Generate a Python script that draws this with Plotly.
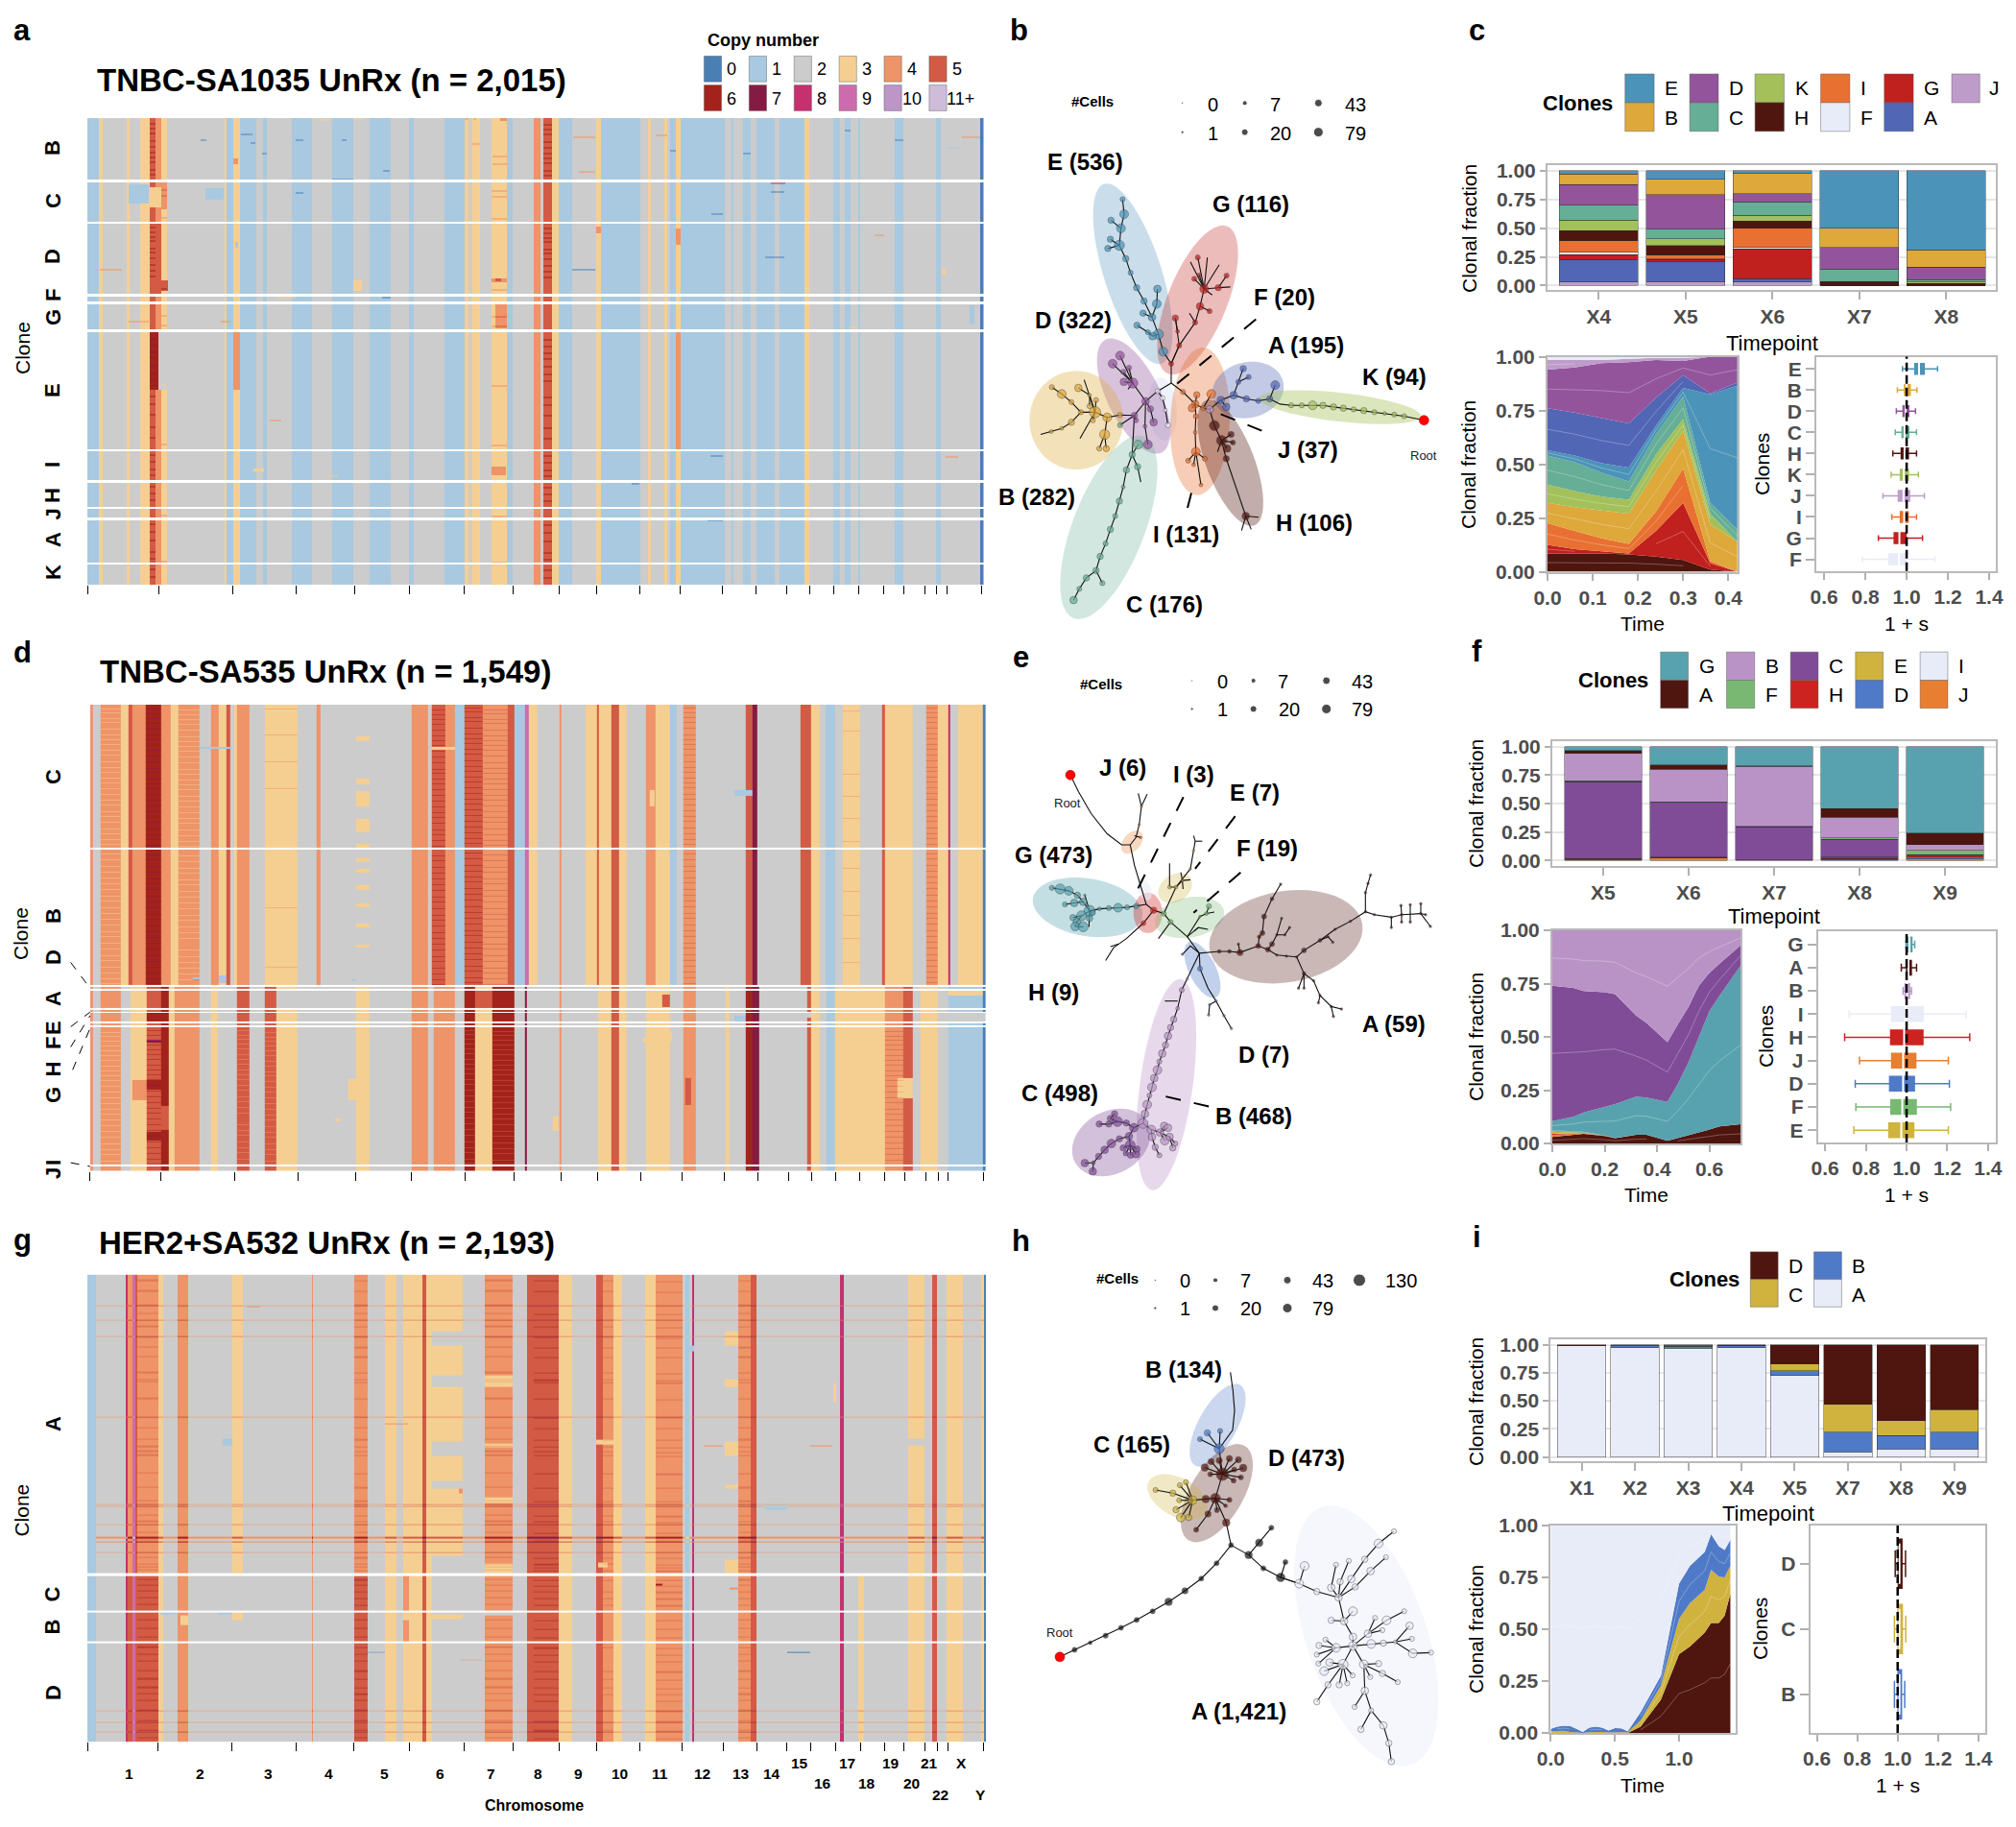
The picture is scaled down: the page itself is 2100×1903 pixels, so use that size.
import numpy as np
import plotly.graph_objects as go

W, H = 2100, 1903
FONT = "Liberation Sans"
GREY = "#4d4d4d"

CN_COLORS = ["#4a7fb5", "#a8c9e0", "#cccccc", "#f5cf92", "#ee9468", "#d35a44",
             "#a3221b", "#841b42", "#c6306f", "#ce6bae", "#bb96c6", "#cfbcdb"]
CN_LABELS = ["0", "1", "2", "3", "4", "5", "6", "7", "8", "9", "10", "11+"]

# ---------- heatmap a : genome position / row position ----------
A_SEG_X = [91,103,107,132,135,146,156,162,168,174,234,236,243,249.5,267,274,278,304,325,346,368,385,407,426,431,463,466,484,488,492,500,512,528,534,556,563,566,575,582,596,621,626,667,675,678,692,695,698,704,709,755,762,764,774,782,788,807,812,838,843,868,875,880,886,894,896,932,941,975,980,1021,1024.5]
A_SEG_CN = [1,3,2,3,2,3,5,4,3,2,3,1,3,1,2,1,2,1,2,1,2,1,2,1,2,1,1,3,2,3,2,3,1,2,4,2,5,3,1,2,3,1,2,3,2,3,2,1,3,1,2,1,2,1,2,1,2,1,3,2,1,2,1,2,1,2,1,2,1,2,0]
A_ROWS = [(123,187.3),(190,230.6),(233,306),(309,314),(316.5,343),(345.5,468),(470,500),(502.5,528),(530,539),(541.5,586),(588,609)]
A_TICKS = [91.8,165.4,242.5,308.8,369,426.6,483.6,534.5,582.7,621.6,666.5,708.7,752.9,787.7,819.8,843.9,868.7,894.8,920.9,941,963.1,975.8,986.5,1022.8]
A_CLONE_NAMES = ["B","C","D","F","G","E","I","H","J","A","K"]
A_CLONE_Y = [154,209,267,308,331,407,484,516,535.5,562,596]
A_PATCHES = [
 (156,165,345.5,406,6),(165,174,345.5,406,2),(243,249.5,345.5,406,4),(704,709,345.5,468,4),
 (516,528,316.5,342,4),(512,527,486,495,4),(156,175,292,303,5),(368,377,292,303,3),
 (134,155,192,212,1),(214,233,196,208,1),(156,168,233,306,5),(168,174,190,218,4),(156,168,195,216,3),
 (251,263,139,140.5,0),(308,316,145,146.5,0),(356,361,145,146.5,0),(346,368,186,187.3,0),(261,266,148,149.5,0),
 (273,278,159,160.5,0),(399,406,177,178.5,0),(209,215,145,146.5,0),(331,344,124,126,3),(368,379,123,124.5,3),
 (521,528,123,126,4),(484,488,123,125,4),(493,496,123,125,4),(243,248,165,171,4),(513,528,162,163.5,4),
 (513,528,170,171.5,4),(492,500,149,150.5,4),(597,620,142,143.5,4),(603,620,178,179.5,4),(698,704,156,157.5,0),
 (683,695,140,141.5,4),(774,782,159,160.5,0),(880,886,135,136.5,0),(932,941,145,146.5,0),(1002,1021,142,143.5,4),
 (987,1000,153,154.5,1),(803,818,190,192,8),(803,817,199,200.5,0),(741,753,222,223.5,0),(737,753,541.5,543,0),
 (658,666,503,504.5,0),(281,293,437,438.5,4),(740,753,474,475.5,0),(985,998,475,476.5,4),(797,817,267,268.5,0),
 (911,921,244,245.5,4),(596,620,280,281.5,0),(288,308,309,311,3),(398,407,309,310.5,0),(884,894,340,342,3),
 (1010,1015,318,337,1),(981,985,280,286,3),(134,157,334,335.5,4),(104,127,280,281.5,4),(621,626,236,243,4),
 (704,709,238,255,4),(512,528,290,294,4),(516,522,290,293,5),(245,248,252,258,1),
 (230,240,334,335.5,4),(308,316,200,201.5,0),(340,352,495,497,3),(368,380,502.5,504,3),(264,275,488,491,3),
]
A_DARK_ROWS = [128,133,138,146,152,158,163,168,176,181,236,241,246,250,258,262,268,275,281,287,352,359,366,372,380,388,395,412,420,431,444,455,473,480,488,494,506,513,520,545,553,562,574,581,592,600]
A_LIGHT_ROWS = [197,203,226,300,328,338,400,462,536,584]

# ---------- heatmap d ----------
D_UP_X = [140,145,156,188,200,205,227,250,265,278,310,328,340,352,358,364,368,388,412,463,492,498,640,665,671,692,708,723,751,790,800,816,822,836,870,873,910,928,932,950,962,975,1005,1020,1042,1052,1062,1082,1160,1170,1178,1245,1262,1275,1284,1298,1310,1338,1372,1376,1420,1440,1458,1475,1478,1490,1528,1533]
D_UP_CN = [4,2,4,3,5,4,6,4,3,4,2,4,3,5,2,3,4,2,3,2,4,2,4,2,5,4,1,5,4,5,1,9,3,2,4,2,3,5,3,5,3,2,4,3,1,2,4,2,5,7,2,5,3,2,1,2,3,2,5,3,2,4,3,8,2,3,0]
D_LOW_X = [140,145,156,188,203,228,250,262,272,310,328,338,368,388,412,430,463,553,575,640,665,675,708,723,738,765,800,816,820,870,873,930,950,962,975,1005,1042,1062,1082,1128,1135,1160,1170,1180,1255,1262,1275,1285,1298,1376,1405,1420,1432,1458,1475,1528,1533]
D_LOW_CN = [4,2,4,2,3,5,6,3,4,2,3,2,5,2,5,3,2,3,2,4,2,4,2,6,3,6,2,7,2,4,2,3,5,3,2,3,2,4,2,3,2,6,7,2,5,3,2,1,3,4,5,2,3,2,1,0]
D_ROWS_UP = [(193,582),(588,955)]
D_ROWS_LOW = [(960,966),(972,1020),(1025,1030),(1033,1056),(1060,1066),(1072,1445),(1450,1451.5),(1453,1462)]
D_TICKS = [140,250,365,463,553,640,723,800,872,930,997,1060,1126,1178,1227,1262,1299,1337,1376,1407,1440,1459,1475,1530]
D_CLONE_NAMES = ["C","B","D","A","E","F","H","G","I","J"]
D_CLONE_Y = [809,954,997,1040,1071,1087,1113.5,1141,1211,1222]
D_PATCHES = [
 (553,575,193,260,2),(553,575,278,291,3),(553,575,395,410,3),(553,575,428,470,3),(553,575,505,540,3),(553,575,572,582,3),
 (553,575,610,622,3),(553,575,640,650,3),(553,575,683,698,3),(553,575,735,745,3),(553,575,790,800,3),(553,575,845,855,3),
 (671,708,309,316,3),(1142,1170,425,442,1),(1010,1018,425,470,3),(310,360,308,314,1),(870,910,200,202,0),
 (1284,1298,193,955,1),(972,1020,958,960,2),(412,430,972,1020,5),(430,463,972,1020,2),(1030,1042,982,1015,5),
 (1475,1500,972,1020,1),(1500,1528,985,1020,1),(1475,1528,972,985,3),(738,765,972,1020,5),(765,800,972,1020,6),
 (1065,1075,1210,1282,5),(860,868,1315,1352,3),(542,553,1212,1270,3),(228,250,1105,1112,7),(228,262,1215,1240,6),
 (228,262,1355,1380,6),(205,228,1215,1270,4),(228,262,1285,1350,5),(205,228,1345,1440,3),(1395,1420,1210,1265,3),
 (1142,1160,1040,1056,1),(300,310,936,944,1),(340,352,930,950,1),(520,530,1318,1326,3),(1245,1262,1033,1045,2),
 (228,262,1033,1056,6),(140,470,1052,1054,5),(1255,1330,1044,1046,0),(1475,1533,1033,1056,2),(708,723,935,955,1),
 (1040,1045,1085,1110,3),(548,553,940,945,1),(1000,1020,1100,1112,3),(1380,1400,1040,1056,4),
]
D_ROWS_FINE = [200,212,226,238,255,271,284,298,312,327,344,361,373,389,402,417,433,448,463,479,494,508,526,541,556,570,596,611,629,644,661,675,692,709,724,741,758,772,789,806,821,838,853,871,886,903,918,934,948]
D_ROWS_LOWFINE = [1078,1090,1102,1115,1128,1142,1156,1170,1184,1197,1211,1226,1241,1257,1272,1288,1302,1317,1333,1349,1364,1381,1397,1411,1428,1440]

# ---------- heatmap g ----------
G_A_X = [137,150,197,200,207,212,215,247,255,277,293,362,378,486,488,551,572,600,617,628,657,663,672,720,755,798,820,830,870,890,928,938,955,968,1003,1020,1062,1066,1072,1076,1079,1148,1168,1176,1306,1312,1412,1438,1450,1457,1472,1497,1526,1530,1533]
G_A_CN = [1,2,8,4,9,5,4,3,2,4,2,3,2,4,2,4,2,3,2,3,5,3,3,2,4,2,5,5,3,2,5,4,3,2,3,4,2,1,2,8,2,4,5,2,8,2,3,2,5,2,3,2,3,0]
G_D_X = [137,150,197,200,207,212,215,247,255,277,293,486,488,551,572,600,617,628,657,663,672,755,798,820,830,870,890,928,938,955,968,1003,1020,1062,1066,1072,1076,1079,1148,1168,1176,1306,1312,1335,1344,1412,1438,1450,1457,1472,1497,1526,1530,1533]
G_D_CN = [1,2,8,5,9,5,5,3,2,4,2,4,2,5,2,3,2,3,5,3,2,4,2,5,5,3,2,5,4,3,2,3,4,2,1,2,8,2,4,5,2,8,2,3,2,3,2,5,2,3,2,3,0]
G_ROWS_A = [(165,923)]
G_ROWS_D = [(930,1018),(1024,1096),(1102,1352)]
G_TICKS = [137,247,362,461,551,637,722,798,870,928,995,1061,1125,1178,1224,1261,1299,1338,1376,1406,1439,1458,1474,1530]
G_CLONE_NAMES = ["A","C","B","D"]
G_CLONE_Y = [1483,1660.6,1694.6,1763]
G_CHROM_NAMES = ["1","2","3","4","5","6","7","8","9","10","11","12","13","14","15","17","19","21","X","16","18","20","22","Y"]
G_CHROM_X = [201,312,418,512,598,684,763,837,900,963,1027,1092,1152,1201,1243,1317,1386,1445,1495,1280,1348,1418,1463,1525]
G_CHROM_Y = [1432]*14 + [1405]*5 + [1457]*3 + [1487]*2
G_PATCHES = [
 (672,720,310,345,2),(672,720,420,450,2),(672,720,590,625,2),(672,720,690,710,2),(672,720,880,923,2),
 (714,720,708,722,4),(755,798,900,923,3),(755,798,420,450,3),(755,798,595,605,3),(755,798,730,745,3),
 (617,628,165,923,2),(600,617,165,923,3),(1412,1438,582,598,2),(1128,1148,590,625,3),(1128,1148,310,345,3),(1128,1148,430,450,3),
 (1128,1148,890,923,3),(1128,1148,700,710,3),(928,960,585,597,3),(930,945,897,908,3),(348,362,582,598,1),(1190,1225,750,762,1),
 (1066,1079,345,360,1),(1296,1300,440,490,3),(362,378,1018,1042,3),(672,720,930,1040,2),(672,720,1028,1040,3),
 (1412,1438,930,1018,3),(1412,1438,1024,1100,3),(628,636,930,1018,4),(628,636,1044,1100,4),(755,798,1024,1030,2),
 (282,293,1030,1055,3),(715,750,1144,1146,4),(250,276,1022,1028,1),(340,362,1022,1028,1),(1260,1295,598,601,4),(1225,1260,1124,1127,0),
 (1095,1125,598,601,4),(570,600,1124,1126,0),(385,405,245,248,4),(600,635,543,546,4),(1135,1148,960,966,4),(1020,1030,950,956,6),
]
G_FULL_ROWS = [243,280,322,527,748,752,800,870,1273,1302,1325,1332]
G_STRONG_ROWS = [832,842]
G_DARK_ROWS = [178,205,240,262,295,322,348,372,412,430,436,478,525,552,582,600,612,622,668,704,738,775,790,818,838,882,898,906,914,938,952,968,985,1002,1040,1062,1084,1110,1128,1145,1170,1190,1212,1228,1245,1270,1296,1320,1340]

# ---------- tree b : node positions ----------
B_ELL = [("E","#4b93b8",.30,(330,455,510,900,60)),("G","#c0201e",.30,(715,560,530,925,62)),
         ("F","#e8ecf8",.7,(505,935,520,1090,30)),("I","#e87030",.35,(640,860,620,1225,62)),
         ("A","#5166b5",.35,(670,985,890,945,58)),("K","#a4c05a",.40,(815,985,1320,1030,30)),
         ("H","#4f150f",.35,(650,990,800,1300,50)),("D","#93549c",.35,(335,840,510,1120,55)),
         ("B","#dea83a",.35,(97,1040,390,1040,103)),("C","#66ae96",.30,(455,1080,235,1530,75))]
B_E = [[(540,900),(515,870,7),(500,827,8),(480,785,6),(455,745,5),(432,712,5),(413,675,4),(398,640,5),(378,607,8),(383,565,7),(393,530,7),(388,493,4)],
       [(378,607),(342,615,5)],[(378,607),(350,592,5)],[(383,565),(352,545,5)],
       [(500,827),(482,832,6),(467,822,4),(433,805,5)],[(480,785),(452,775,5)],[(480,785),(495,752,7),(497,715,6)]]
B_G = [[(540,948),(540,900,4),(565,855,4),(615,798,4),(630,758,6),(643,715,7)],
       [(643,715),(623,637,4)],[(643,715),(653,637,0)],[(643,715),(690,655,0)],[(643,715),(600,648,0)],[(643,715),(612,690,4)],
       [(643,715),(627,680,3)],[(643,715),(687,712,5)],[(687,712),(713,682,4)],[(687,712),(725,710,0)],[(643,715),(668,730,0)],
       [(630,758),(660,770,4)],[(615,798),(597,775,0)],[(540,900),(565,855),(553,787,5)],[(560,820,3),(553,787)]]
B_F = [[(540,948),(498,968,4),(513,985,4),(522,1015,3),(530,1052,4)]]
B_D = [[(498,968),(460,993,6),(420,948,8),(380,880,7)],[(420,948),(357,900,7)],[(420,948),(390,920,4)],[(420,948),(392,945,6)],
       [(420,948),(408,910,4)],[(420,948),(405,963,0)],[(460,993),(475,1012,5),(485,1045,6)],[(460,993),(458,1055,3),(467,1100,7)],[(460,993),(425,1028,5)],[(425,1028),(430,1040,4)]]
B_B = [[(425,1028),(380,1027,4),(340,1033,7),(302,1020,9),(258,1020,4),(228,995,4),(198,975,7),(167,958,4)],
       [(302,1020),(285,978,3),(250,960,6)],[(302,1020),(268,940,0)],[(302,1020),(305,990,4)],[(302,1020),(295,1040,4)],
       [(258,1020),(228,1045,5),(198,1060,3),(165,1068,3),(132,1075,0)],[(302,1020),(255,1085,0)],
       [(340,1033),(332,1075,8),(315,1110,4)],[(332,1075),(337,1110,5)],[(285,978),(285,1005,4)]]
B_C = [[(425,1028),(380,1052,4)],[(425,1028),(418,1125,5),(400,1163,5),(390,1205,3),(378,1240,5),(365,1277,4),(350,1310,5),(335,1345,4),(318,1377,5),(305,1412,5),(275,1430,5),(253,1457,4),(235,1485,6)],
       [(305,1412),(325,1443,4)],[(418,1125),(437,1100,7)],[(418,1125),(435,1155,5),(445,1193,0)]]
B_I = [[(540,948),(577,970,4),(615,1000,6)],[(615,1000),(605,1010,6)],[(615,1000),(620,977,5)],[(615,1000),(640,1010,4)],
       [(615,1000),(617,1030,4),(615,1070,3),(617,1118,7)],[(617,1118),(593,1140,4)],[(617,1118),(610,1150,3)],[(617,1118),(645,1135,4)],[(617,1118),(633,1200,3)],[(640,1010),(665,975,7)]]
B_J = [[(640,1010),(660,1013,6)]]
B_H = [[(660,1013),(675,1053,8),(697,1090,8),(712,1135,5),(773,1277,6)],[(773,1277),(760,1313,0)],[(773,1277),(790,1310,0)],[(773,1277),(813,1280,0)],
       [(697,1090),(727,1075,5)],[(697,1090),(733,1095,4)],[(697,1090),(715,1110,6)],[(697,1090),(685,1118,0)]]
B_A = [[(660,1013),(695,990,6),(735,978,6),(775,987,5),(812,992,4),(848,987,5)],[(735,978),(750,945,4),(765,912,5)],[(750,945),(782,933,4)],
       [(695,990),(712,1007,6)],[(848,987),(865,953,7)]]
B_K = [[(848,987),(880,1000),(915,1003,4),(948,1003,4),(982,1003,7),(1014,1003,5),(1047,1007,5),(1078,1010,5),(1110,1013,4),(1142,1016,5),(1175,1020,4),(1207,1023,3),(1237,1026,4),(1268,1030,4),(1330,1040)]]
B_ROOT = [1330,1040]
B_LEAD_X = [805,550]; B_LEAD_Y = [790,955]
B_LEAD2_X = [695,830]; B_LEAD2_Y = [1025,1068]
B_LEAD3_X = [603,590]; B_LEAD3_Y = [1220,1260]
B_LABELS = [("E (536)",270,400),("G (116)",788,505),("F (20)",895,735),("D (322)",235,793),("A (195)",960,855),("K (94)",1237,932),("J (37)",967,1113),("B (282)",120,1230),("I (131)",587,1322),("H (106)",987,1293),("C (176)",520,1495)]
B_ROOT_LABEL = (1330,1127)
B_CELLS = (293,250)
B_DOT_X = [575,575,770,770,1000,1000]; B_DOT_Y = [255,327,255,327,255,327]
B_DOT_TEXT = ["0","1","7","20","43","79"]; B_DOT_TX = [670,670,865,883,1115,1115]; B_DOT_TY = [258,330,258,330,258,330]
DOT_SIZE = [2,3,5,7,8,10,12]

# ---------- tree e ----------
E_ELL = [("G","#57a2ae",.35,(108,720,450,770,60)),("H","#cd2320",.35,(467,705,467,815,30)),
         ("F","#79b873",.30,(490,790,705,755,42)),("E","#cfb33e",.30,(505,720,600,665,28)),
         ("I","#e8ecf8",.6,(440,665,470,725,14)),("J","#e87e30",.30,(390,595,445,540,18)),
         ("A","#4f150f",.30,(660,860,1137,790,95)),("D","#4f7ac7",.35,(595,840,680,990,28)),
         ("B","#b993c6",.35,(570,940,480,1515,55)),("C","#804c97",.35,(240,1440,465,1330,65))]
E_J = [[(412,575),(430,555),(440,520,2),(447,470,2),(437,435,0)],[(447,470),(465,437,0)],[(425,550),(445,555,2)]]
E_G = [[(462,737),(430,742,4),(402,745,4),(374,746,7),(345,747,4),(316,749,3),(285,755,9)],[(285,755),(260,768,8),(233,773,5)],
       [(260,768),(245,785,6),(240,797,7),(265,798,8)],[(285,755),(265,730,6),(237,733,6),(208,737,4)],[(265,730),(247,712,5),(220,700,7),(193,695,8),(167,692,4)],
       [(285,755),(270,712,2)],[(285,755),(285,775,5),(283,798,0)],[(285,755),(295,760,4)]]
E_H = [[(485,753),(453,788,4),(400,830,0),(360,855,0),(335,890,0)],[(375,845),(350,852,0)]]
E_E = [[(517,762),(555,690,3),(600,640,2),(610,590,2),(615,565,0)],[(615,565),(610,550,0)],[(615,565),(637,565,0)],[(555,690),(535,690,3),(535,625,0)],
       [(555,690),(575,672,2),(600,670,0)],[(575,672),(577,695,0)],[(575,672),(570,650,0)]]
E_F = [[(485,753),(517,762,4),(538,785,4),(590,825),(628,870)],[(538,785),(500,830,0)],[(590,825),(625,800,0),(655,805,0)],[(625,800),(612,810,0)],
       [(590,825),(630,770,2),(650,762,3),(658,742,4)],[(650,762),(675,758,0)]]
E_Hnode = [[(462,737),(485,753,5)]]
E_A = [[(628,870),(690,865,3),(722,865,3),(755,868,5),(812,850,4),(842,860,4),(870,875,2),(900,878,2),(932,880,2),(955,862,4),(1005,835,3),(1052,805,2),(1100,783,2),(1147,757,2),(1175,765,2),(1228,772,2),(1260,765,2),(1320,762,2)],
       [(1320,762),(1350,797,2)],[(1320,762),(1335,765,2)],[(1320,762),(1320,735,2)],[(1147,757),(1147,705,2),(1155,680,2),(1163,657,2)],
       [(1228,772),(1228,800,2)],[(1260,765),(1258,740,2)],[(1260,765),(1260,785,2)],[(1287,763),(1287,738,2)],[(1287,763),(1287,785,2)],
       [(812,850),(815,825,3),(825,815,4),(830,770,4),(855,722,3),(882,682,2)],[(842,860),(855,845,4),(870,820,2),(885,775,2)],[(870,820),(895,820,2),(910,800,2)],[(755,868),(750,845,2)],
       [(932,880),(955,925,3),(985,945,2),(1005,985,2),(1040,1015,2),(1047,1042,2)],[(1040,1015),(1072,1022,2)],[(1005,985),(1000,1005,2)],[(955,925),(938,965,2)],[(955,925),(955,965,2)],[(1005,835),(1030,825,2),(1045,840,2)]]
E_D = [[(628,870),(630,912,4),(655,965,0),(680,1000,2),(705,1040,2),(728,1075,2)],[(680,1000),(660,1010,2),(657,1038,2)],[(628,870),(600,850,0),(575,873,2)]]
E_B = [[(628,870),(590,940,2),(573,970,4),(560,1020,3),(548,1050,5),(538,1072,5),(530,1095,6),(522,1120,5),(512,1143,6),(503,1165,4),(497,1188,7),(487,1210,6),(480,1235,7),(472,1257,4),(465,1282,7),(458,1307,6),(452,1333,8)],
       [(560,1000),(520,1000,0)],[(452,1333),(478,1350,7),(505,1358,6),(518,1340,6)],[(505,1358),(530,1345,6)],[(505,1358),(520,1380,7)],[(505,1358),(535,1370,6),(545,1400,5)],[(535,1370),(553,1388,4)],[(478,1350),(480,1370,6),(490,1398,5),(503,1420,4)]]
E_C = [[(452,1333),(423,1345,7),(400,1332,5),(372,1328,8),(345,1335,5),(315,1335,5)],[(372,1328),(350,1320,5),(363,1307,5)],[(423,1345),(408,1368,6),(378,1375,5),(353,1388,7),(332,1405,6),(313,1423,5),(297,1440,3),(270,1441,6)],
       [(297,1440),(295,1464,6)],[(408,1368),(412,1392,8),(390,1400,5)],[(412,1392),(398,1415,4)],[(412,1392),(413,1420,5)],[(412,1392),(430,1417,6)],[(412,1392),(433,1403,5)]]
E_ROOTLINE_X = [225,250,290,340,385,412,425,445,462]; E_ROOTLINE_Y = [385,430,490,545,575,575,630,690,737]
E_ROOT = [225,385]
E_LEADS = [([578,430],[445,705]),([740,615],[497,640]),([757,610],[650,760]),([523,663],[1260,1288])]
E_LABELS = [("J (6)",387,365),("I (3)",610,382),("E (7)",802,433),("G (473)",173,603),("F (19)",840,585),("H (9)",173,977),("A (59)",1237,1062),("D (7)",828,1145),("C (498)",193,1250),("B (468)",797,1312)]
E_ROOT_LABEL = (215,462)
E_CELLS = (320,136)
E_DOT_X = [605,605,797,797,1025,1025]; E_DOT_Y = [128,205,128,205,128,205]
E_DOT_TEXT = ["0","1","7","20","43","79"]; E_DOT_TX = [700,700,890,908,1137,1137]; E_DOT_TY = [130,207,130,207,130,207]

# ---------- tree h ----------
H_ELL = [("B","#4f7ac7",.30,(755,445,615,650,40)),("D","#4f150f",.30,(770,600,595,840,55)),
         ("C","#cfb33e",.30,(470,690,650,770,40)),("A","#e8ecf8",.40,(1010,755,1290,1410,125))]
H_TRUNK = [[(192,1136),(238,1118,4),(287,1100,3),(335,1082,4),(383,1062,4),(432,1042,4),(482,1020,4),(532,996,6),(583,968,5),(634,937,4),(682,898,4),(727,852,4)],
           [(727,852),(782,877,6),(828,911,4),(882,934,7),(940,950)],[(782,877),(815,846,6),(853,808,4)],[(882,934),(897,895,4)]]
H_A = [[(882,934),(940,950,7),(995,970,5),(1063,985,6)],[(940,950),(957,905,7)],[(1063,985),(1040,960,6),(1055,902,4)],[(1063,985),(1068,945,5),(1095,892,4)],
       [(1063,985),(1103,938,6),(1145,888,5),(1188,848,7),(1236,817,4)],[(1063,985),(1115,958,5),(1163,918,6),(1211,883,4)],
       [(1063,985),(1080,1045,6),(1040,1043,5)],[(1080,1045),(1108,1020,7)],[(1080,1045),(1108,1085,6),(1108,1108,7)],
       [(1108,1108),(1055,1113,7),(1002,1107,5)],[(1055,1113),(1022,1092,4)],[(1055,1113),(995,1130,4)],[(1055,1113),(1000,1153,4)],
       [(1108,1108),(1155,1077,6),(1213,1043,7),(1268,1020,4)],[(1155,1077),(1177,1037,4)],[(1155,1077),(1200,1068,4)],
       [(1108,1108),(1165,1103,7),(1203,1101,5),(1240,1098,3),(1295,1127,7),(1352,1125,4)],[(1240,1098),(1285,1057,6)],[(1240,1098),(1292,1090,4)],
       [(1108,1108),(1077,1155,8),(1018,1172,7)],[(1077,1155),(1035,1150,6)],[(1077,1155),(1030,1207,5),(995,1250,5)],[(1077,1155),(1065,1207,5)],[(1077,1155),(1090,1203,4)],[(1077,1155),(1107,1183,4)],
       [(1108,1108),(1142,1155,7),(1188,1153,5)],[(1142,1155),(1200,1178,5),(1248,1200,4)],[(1142,1155),(1162,1187,4)],[(1142,1155),(1145,1222,6),(1113,1263,4)],
       [(1145,1222),(1165,1272,4),(1133,1320,5)],[(1165,1272),(1203,1310,6),(1220,1355,5),(1228,1402,5)]]
H_D = [[(727,852),(712,795,6),(678,733,8),(700,672,10),(690,637,5)],[(678,733),(648,735,6)],[(678,733),(722,737,4)],[(678,733),(710,752,3)],[(678,733),(683,763,4)],[(678,733),(655,773,5),(618,813,4)],
       [(700,672),(645,655,6)],[(700,672),(662,672,4)],[(700,672),(665,640,5)],[(700,672),(722,632,5)],[(700,672),(750,635,5)],[(700,672),(765,656,6)],[(700,672),(737,660,4)],[(700,672),(758,680,4)],[(700,672),(735,688,4)]]
H_C = [[(648,735),(607,738,7),(545,720,5),(491,712,4)],[(607,738),(567,700,4)],[(607,738),(586,692,4)],[(607,738),(565,738,4)],[(607,738),(555,762,5)],[(607,738),(570,782,7)],[(607,738),(595,782,5)]]
H_B = [[(700,672),(690,607,8),(653,567,5)],[(690,607),(630,583,4)],[(690,607),(693,562,4)],[(690,607),(732,560,0),(738,510,0),(733,460,0),(725,413,0)]]
H_ROOT = [192,1136]
H_LABELS = [("B (134)",578,407),("C (165)",418,596),("D (473)",962,630),("A (1,421)",750,1275)]
H_ROOT_LABEL = (193,1073)
H_CELLS = (372,174)
H_DOT_X = [490,490,678,678,903,903,1128]; H_DOT_Y = [179,250,179,250,179,250,179]
H_DOT_TEXT = ["0","1","7","20","43","79","130"]; H_DOT_TX = [582,582,772,790,1013,1013,1257]; H_DOT_TY = [181,252,181,252,181,252,181]

# ---------- clones : colours ----------
C_COL = dict(E="#4b93b8",B="#dea83a",D="#93549c",C="#66ae96",K="#a4c05a",H="#4f150f",I="#e87030",F="#e8ecf8",G="#c0201e",A="#5166b5",J="#be9cca")
F_COL = dict(G="#57a2ae",A="#4f150f",B="#b993c6",F="#79b873",C="#804c97",H="#cd2320",E="#cfb33e",D="#4f7ac7",I="#e8ecf8",J="#e87e30")
I_COL = dict(D="#4f150f",C="#cfb33e",B="#4f7ac7",A="#e8ecf8")

# ---------- panel c ----------
C_TP = ["X4","X5","X6","X7","X8"]
C_BAR_ORDER = ["J","A","G","F","I","H","K","C","D","B","E"]
C_BAR_X4 = [.03,.225,.27,.29,.39,.48,.57,.70,.88,.97,1]
C_BAR_X5 = [.035,.21,.225,.23,.265,.35,.405,.49,.79,.925,1]
C_BAR_X6 = [.03,.06,.32,.33,.50,.56,.61,.73,.80,.975,1]
C_BAR_X7 = [0,0,0,0,0,.035,.035,.145,.33,.50,1]
C_BAR_X8 = [0,0,0,0,0,.02,.03,.05,.16,.31,1]
C_T = [0,.06,.12,.18,.24,.30,.36,.42]
C_AREA_ORDER = ["H","G","I","B","K","C","E","A","D","J","F"]
C_AREA_0 = [.085,.125,.225,.32,.405,.54,.565,.76,.94,.985,1]
C_AREA_1 = [.085,.105,.19,.30,.375,.51,.54,.74,.95,.985,1]
C_AREA_2 = [.085,.095,.155,.285,.35,.46,.505,.715,.97,.985,1]
C_AREA_3 = [.08,.085,.13,.27,.335,.42,.485,.69,.975,.99,1]
C_AREA_4 = [.07,.19,.28,.47,.545,.64,.68,.81,.985,.995,1]
C_AREA_5 = [.055,.32,.48,.655,.71,.815,.855,.915,.98,.995,1]
C_AREA_6 = [.01,.04,.05,.22,.27,.32,.825,.83,1,1,1]
C_AREA_7 = [0,0,0,.14,.14,.195,.865,.88,1,1,1]
C_BOX_NAMES = ["E","B","D","C","H","K","J","I","G","F"]
C_BOX_LOW = [.98,.955,.95,.945,.933,.925,.885,.928,.863,.785]
C_BOX_Q1 = [1.04,.99,.983,.978,.974,.97,.96,.97,.94,.914]
C_BOX_MED = [1.06,1.0,.995,.99,.99,.986,.985,.988,.965,.962]
C_BOX_Q3 = [1.085,1.017,1.01,1.01,1.008,1.008,1.014,1.007,.997,.997]
C_BOX_HIGH = [1.15,1.05,1.043,1.048,1.048,1.057,1.086,1.048,1.077,1.137]

# ---------- panel f ----------
F_TP = ["X5","X6","X7","X8","X9"]
F_BAR_ORDER = ["J","D","E","H","C","F","B","A","G"]
F_BAR_X5 = [.008,.012,.015,.018,.69,.70,.94,.965,1]
F_BAR_X6 = [.025,.027,.03,.03,.51,.515,.80,.84,1]
F_BAR_X7 = [.003,.005,.006,.006,.295,.30,.825,.83,1]
F_BAR_X8 = [.005,.015,.018,.03,.185,.20,.38,.455,1]
F_BAR_X9 = [.012,.02,.03,.045,.05,.09,.14,.24,1]
F_T = [0,.08,.12,.2,.24,.32,.36,.44,.48,.52,.56,.6,.64,.72]
F_AREA_ORDER = ["A","J","H","E","F","D","G","C","B"]
F_AREA_A = [.03,.04,.045,.035,.025,.04,.04,.012,.025,.04,.05,.065,.08,.09]
F_AREA_J = [.04,.043,.047,.036,.025,.04,.04,.012,.025,.04,.05,.065,.08,.09]
F_AREA_H = [.045,.045,.048,.037,.025,.04,.04,.012,.025,.04,.05,.065,.08,.09]
F_AREA_E = [.055,.05,.05,.037,.026,.04,.04,.012,.025,.04,.05,.065,.08,.09]
F_AREA_F = [.06,.055,.053,.037,.026,.04,.04,.012,.025,.04,.05,.065,.08,.09]
F_AREA_D = [.062,.058,.055,.037,.026,.04,.04,.012,.025,.04,.05,.065,.08,.09]
F_AREA_G = [.105,.125,.145,.17,.185,.22,.215,.195,.28,.38,.50,.62,.695,.835]
F_AREA_C = [.74,.73,.715,.71,.70,.60,.565,.475,.56,.64,.74,.80,.845,.93]
F_AREA_B = [1,1,1,1,1,1,1,1,1,1,1,1,1,1]
F_BOX_NAMES = ["G","A","B","I","H","J","D","F","E"]
F_BOX_LOW = [.997,.974,.983,.718,.696,.769,.748,.751,.741]
F_BOX_Q1 = [1.003,1.0,.993,.927,.922,.927,.917,.923,.913]
F_BOX_MED = [1.014,1.009,1.003,.996,.988,.983,.983,.979,.974]
F_BOX_Q3 = [1.026,1.023,1.014,1.08,1.08,1.045,1.038,1.047,1.035]
F_BOX_HIGH = [1.04,1.049,1.024,1.292,1.31,1.205,1.21,1.216,1.205]

# ---------- panel i ----------
I_TP = ["X1","X2","X3","X4","X5","X7","X8","X9"]
I_BAR_ORDER = ["A","B","C","D"]
I_BAR_X1 = [.99,.99,.99,1]
I_BAR_X2 = [.975,.99,.995,1]
I_BAR_X3 = [.97,.985,.995,1]
I_BAR_X4 = [.975,.995,.995,1]
I_BAR_X5 = [.725,.77,.83,1]
I_BAR_X7 = [.045,.22,.47,1]
I_BAR_X8 = [.07,.19,.325,1]
I_BAR_X9 = [.07,.22,.42,1]
I_T = [0,.05,.1,.15,.2,.25,.3,.35,.4,.45,.5,.55,.6,.7,.858,1.0,1.085,1.2,1.25,1.31,1.355,1.4]
I_AREA_ORDER = ["D","C","B","A"]
I_AREA_D = [0,0,0,0,0,0,0,0,0,0,0,0,0,.03,.16,.38,.417,.484,.53,.53,.565,.67]
I_AREA_C = [.008,.01,.01,.005,.003,0,.003,.005,.005,.002,.004,.004,.002,.06,.228,.55,.626,.69,.787,.753,.75,.806]
I_AREA_B = [.02,.03,.035,.033,.02,.005,.025,.03,.025,.012,.023,.022,.008,.1,.275,.72,.806,.873,.958,.90,.882,.93]
I_AREA_A = [1]*22
I_BOX_NAMES = ["D","C","B"]
I_BOX_LOW = [.988,.984,.984]
I_BOX_Q1 = [1.0035,1.002,1.002]
I_BOX_MED = [1.009,1.009,1.009]
I_BOX_Q3 = [1.021,1.023,1.019]
I_BOX_HIGH = [1.039,1.04,1.035]

# ---------- helpers ----------
fig = go.Figure()
layout = dict(width=W, height=H, margin=dict(l=0, r=0, t=0, b=0, pad=0, autoexpand=False), paper_bgcolor="white", plot_bgcolor="white",
              barmode="stack", boxmode="overlay", showlegend=False, hovermode=False)
shapes, annos = [], []

def dom(x0, x1, y0, y1):
    return [x0 / W, x1 / W], [1 - y1 / H, 1 - y0 / H]

def set_axes(n, x0, x1, y0, y1, xopt, yopt):
    dx, dy = dom(x0, x1, y0, y1)
    s = "" if n == 1 else str(n)
    layout["xaxis" + s] = dict(domain=dx, anchor="y" + s, **xopt)
    layout["yaxis" + s] = dict(domain=dy, anchor="x" + s, **yopt)
    return "x" + s, "y" + s

def txt(px, py, t, size=20, bold=False, color="black", rot=0):
    annos.append(dict(x=px / W, y=1 - py / H, xref="paper", yref="paper", showarrow=False, text=f"<b>{t}</b>" if bold else t,
                      font=dict(family=FONT, size=size, color=color), textangle=rot, xanchor="center", yanchor="middle"))

def axtxt(xr, yr, x, y, t, size=24, bold=True, color="black"):
    annos.append(dict(x=x, y=y, xref=xr, yref=yr, showarrow=False, text=f"<b>{t}</b>" if bold else t,
                      font=dict(family=FONT, size=size, color=color), xanchor="center", yanchor="middle"))

def rect(x0, y0, x1, y1, color):
    shapes.append(dict(type="rect", xref="paper", yref="paper", x0=x0 / W, x1=x1 / W, y0=1 - y1 / H, y1=1 - y0 / H,
                       fillcolor=color, line=dict(color="rgba(90,90,90,.45)", width=1)))

def pline(x0, y0, x1, y1):
    shapes.append(dict(type="line", xref="paper", yref="paper", x0=x0 / W, x1=x1 / W, y0=1 - y0 / H, y1=1 - y1 / H,
                       line=dict(color="black", width=1, dash="dash")))

CS = []
for i, c in enumerate(CN_COLORS):
    CS += [[i / 12, c], [(i + 1) / 12, c]]

def paint_heat(bands, patches, soft, xr, yr, hard=(), thin=2.6):
    bumps = list(soft) + list(hard)
    xe = set(); ye = set()
    for y0, y1, sx, _ in bands:
        xe.update(sx); ye.update((y0, y1))
    for p in list(patches) + bumps:
        xe.update((p[0], p[1])); ye.update((p[2], p[3]))
    xe = np.array(sorted(xe), float); ye = np.array(sorted(ye), float)
    xc = (xe[:-1] + xe[1:]) / 2; yc = (ye[:-1] + ye[1:]) / 2
    z = np.full((len(yc), len(xc)), np.nan)
    for y0, y1, sx, sc in bands:
        rows = (yc > y0) & (yc < y1)
        cols = np.clip(np.searchsorted(np.array(sx, float), xc) - 1, 0, len(sc) - 1)
        z[np.ix_(rows, np.ones(len(xc), bool))] = np.array(sc, float)[cols]
    for x0, x1, y0, y1, v in patches:
        if y1 - y0 < thin:
            continue
        m = np.ix_((yc > y0) & (yc < y1), (xc > x0) & (xc < x1))
        sub = z[m]; sub[~np.isnan(sub)] = v; z[m] = sub
    for x0, x1, y0, y1, d in hard:
        m = np.ix_((yc > y0) & (yc < y1), (xc > x0) & (xc < x1))
        z[m] = np.clip(z[m] + d, 0, 11)
    z2 = np.full(z.shape, np.nan)
    for x0, x1, y0, y1, d in soft:
        m = np.ix_((yc > y0) & (yc < y1), (xc > x0) & (xc < x1))
        z2[m] = np.clip(z[m] + d, 0, 11)
    for x0, x1, y0, y1, v in patches:
        if y1 - y0 >= thin:
            continue
        m = np.ix_((yc > y0) & (yc < y1), (xc > x0) & (xc < x1))
        sub = z2[m]; sub[~np.isnan(z[m])] = v; z2[m] = sub
    fig.add_trace(go.Heatmap(x=xe, y=ye, z=z, zmin=-.5, zmax=11.5, colorscale=CS, showscale=False, hoverinfo="skip", xaxis=xr, yaxis=yr))
    fig.add_trace(go.Heatmap(x=xe, y=ye, z=z2, zmin=-.5, zmax=11.5, colorscale=CS, showscale=False, hoverinfo="skip", opacity=.5, xaxis=xr, yaxis=yr))

def hide():
    return dict(visible=False, fixedrange=True)

def heat_x(rng, ticks):
    return dict(range=rng, tickmode="array", tickvals=ticks, ticktext=[""] * len(ticks), ticks="outside", ticklen=9, tickwidth=1.3,
                tickcolor="black", showgrid=False, zeroline=False, showline=False, fixedrange=True)

def heat_y(rng):
    return dict(range=rng, showticklabels=False, ticks="", showgrid=False, zeroline=False, showline=False, fixedrange=True)

def ell_path(x1, y1, x2, y2, w, sx, sy):
    p1 = np.array([x1 / sx, y1 / sy]); p2 = np.array([x2 / sx, y2 / sy])
    c = (p1 + p2) / 2; u = (p2 - p1) / 2; v = np.array([-u[1], u[0]]) / np.linalg.norm(u) * (w / 2)
    pts = []
    for a in np.linspace(0, 2 * np.pi, 48, endpoint=False):
        q = c + u * np.cos(a) + v * np.sin(a)
        pts.append(f"{q[0] * sx:.1f},{q[1] * sy:.1f}")
    return "M " + " L ".join(pts) + " Z"

NODE_SCALE = 1.3

def draw_tree(xr, yr, sx, sy, ells, groups, leads, root, labels, root_label, cells, dots, extra_line=None):
    for _, col, op, e in ells:
        shapes.append(dict(type="path", xref=xr, yref=yr, path=ell_path(*e, sx, sy), fillcolor=col, opacity=op, line=dict(width=0), layer="below"))
    lx, ly = [], []
    if extra_line:
        lx += list(extra_line[0]) + [None]; ly += list(extra_line[1]) + [None]
    for _, _, polys in groups:
        for poly in polys:
            lx += [p[0] for p in poly] + [None]; ly += [p[1] for p in poly] + [None]
    fig.add_trace(go.Scatter(x=lx, y=ly, mode="lines", line=dict(color="#111111", width=1.1), xaxis=xr, yaxis=yr, hoverinfo="skip"))
    for lead in leads:
        fig.add_trace(go.Scatter(x=lead[0], y=lead[1], mode="lines", line=dict(color="black", width=2, dash="16px,14px"), xaxis=xr, yaxis=yr, hoverinfo="skip"))
    for _, col, polys in groups:
        nx, ny, ns = [], [], []
        for poly in polys:
            for p in poly:
                if len(p) == 3 and p[2] > 0:
                    nx.append(p[0]); ny.append(p[1]); ns.append(p[2] * NODE_SCALE)
        if nx:
            fig.add_trace(go.Scatter(x=nx, y=ny, mode="markers", marker=dict(size=ns, color=col, line=dict(color="#333333", width=.6)), xaxis=xr, yaxis=yr, hoverinfo="skip"))
    fig.add_trace(go.Scatter(x=[root[0]], y=[root[1]], mode="markers", marker=dict(size=10, color="#ff0000", line=dict(color="#aa0000", width=.5)), xaxis=xr, yaxis=yr, hoverinfo="skip"))
    dx, dy, dtxt, dtx, dty = dots
    fig.add_trace(go.Scatter(x=dx, y=dy, mode="markers", marker=dict(size=[DOT_SIZE[i] if i < 6 else 13 for i in range(len(dx))], color="black"), xaxis=xr, yaxis=yr, hoverinfo="skip"))
    for t, x, y in zip(dtxt, dtx, dty):
        axtxt(xr, yr, x, y, t, size=20, bold=False)
    for t, x, y in labels:
        axtxt(xr, yr, x, y, t, size=24)
    axtxt(xr, yr, root_label[0], root_label[1], "Root", size=13, bold=False, color="#222222")
    axtxt(xr, yr, cells[0], cells[1], "#Cells", size=15)

TICKF = dict(family=FONT, size=21, color=GREY, weight="bold")
FRAME = dict(showline=True, mirror=True, linecolor="#b9b9b9", linewidth=2, zeroline=False, fixedrange=True)

def bar_panel(n, box, xrng, yrng, cats, order, cols, cum_by_cat, width):
    xr, yr = set_axes(n, *box,
        dict(type="category", categoryorder="array", categoryarray=cats, range=xrng, ticks="outside", ticklen=8, tickwidth=2, tickcolor="#b0b0b0", tickfont=TICKF, showgrid=False, **FRAME),
        dict(range=yrng, tickvals=[0, .25, .5, .75, 1], ticktext=["0.00", "0.25", "0.50", "0.75", "1.00"], ticks="outside", ticklen=6, tickwidth=2, tickcolor="#b0b0b0", tickfont=TICKF,
             showgrid=True, gridcolor="#e6e6e6", gridwidth=1.5, **FRAME))
    m = np.array(cum_by_cat)
    h = np.diff(np.c_[np.zeros(len(cats)), m], axis=1)
    for j, name in enumerate(order):
        fig.add_trace(go.Bar(x=cats, y=h[:, j], width=width, marker=dict(color=cols[name], line=dict(color="rgba(40,40,40,.55)", width=.8)), xaxis=xr, yaxis=yr, hoverinfo="skip"))

def area_panel(n, box, xrng, xticks, xfmt, times, order, cols, cum):
    xr, yr = set_axes(n, *box,
        dict(range=xrng, tickvals=xticks, ticktext=[xfmt % v for v in xticks], ticks="outside", ticklen=7, tickwidth=2, tickcolor="#b0b0b0", tickfont=TICKF, showgrid=False, **FRAME),
        dict(range=[0, 1], tickvals=[0, .25, .5, .75, 1], ticktext=["0.00", "0.25", "0.50", "0.75", "1.00"], ticks="outside", ticklen=7, tickwidth=2, tickcolor="#b0b0b0", tickfont=TICKF, showgrid=False, **FRAME))
    for j, name in enumerate(order):
        fig.add_trace(go.Scatter(x=times, y=cum[j], mode="lines", line=dict(width=0, color=cols[name]), fill="tozeroy" if j == 0 else "tonexty", fillcolor=cols[name], xaxis=xr, yaxis=yr, hoverinfo="skip"))
    for j, name in enumerate(order):
        lo = np.zeros(len(times)) if j == 0 else np.array(cum[j - 1], float)
        hi = np.array(cum[j], float)
        mid = np.where(hi - lo > .018, (lo + hi) / 2, np.nan)
        fig.add_trace(go.Scatter(x=times, y=mid, mode="lines", line=dict(width=1, color="rgba(255,255,255,.28)"), xaxis=xr, yaxis=yr, hoverinfo="skip"))

def box_panel(n, box, xrng, yrng, names, cols, low, q1, med, q3, high, bw, medsize):
    xr, yr = set_axes(n, *box,
        dict(range=xrng, tickvals=[.6, .8, 1, 1.2, 1.4], ticktext=["0.6", "0.8", "1.0", "1.2", "1.4"], ticks="outside", ticklen=7, tickwidth=2, tickcolor="#b0b0b0", tickfont=TICKF, showgrid=False, **FRAME),
        dict(type="category", categoryorder="array", categoryarray=names, tickmode="array", tickvals=names, ticktext=names, range=yrng, ticks="outside", ticklen=9, tickwidth=2, tickcolor="#b0b0b0", tickfont=TICKF, showgrid=False, **FRAME))
    for i, name in enumerate(names):
        fig.add_trace(go.Box(y=[name], q1=[q1[i]], median=[med[i]], q3=[q3[i]], lowerfence=[low[i]], upperfence=[high[i]], orientation="h",
                             width=bw, whiskerwidth=.55, fillcolor=cols[name], line=dict(color=cols[name], width=1.5), boxpoints=False, xaxis=xr, yaxis=yr, hoverinfo="skip"))
    fig.add_trace(go.Scatter(x=med, y=names, mode="markers", marker=dict(symbol="line-ns", size=medsize, line=dict(color="white", width=2)), xaxis=xr, yaxis=yr, hoverinfo="skip"))
    shapes.append(dict(type="line", xref=xr, yref=yr + " domain", x0=1, x1=1, y0=0, y1=1, line=dict(color="black", width=2.5, dash="9px,4px"), layer="above"))

# ---------- heatmap a ----------
xa, ya = set_axes(1, 91, 1024.5, 123, 609, heat_x([91, 1024.5], A_TICKS), heat_y([609, 123]))
a_bump = []
for y in A_DARK_ROWS:
    a_bump += [(156, 162, y, y + 1.5, 1), (566, 575, y + 1, y + 2.5, 1)]
for y in A_LIGHT_ROWS:
    a_bump += [(168, 174, y, y + 2, 1), (512, 528, y + 1, y + 2.5, 1)]
paint_heat([(r[0], r[1], A_SEG_X, A_SEG_CN) for r in A_ROWS], A_PATCHES, a_bump, xa, ya)

# ---------- tree b ----------
xb, yb = set_axes(2, 1040, 1540, 0, 660, dict(range=[0, 1500], **hide()), dict(range=[1568, 0], **hide()))
draw_tree(xb, yb, 3.0, 1568 / 660, B_ELL,
          [("E", C_COL["E"], B_E), ("G", C_COL["G"], B_G), ("F", "#ffffff", B_F), ("D", C_COL["D"], B_D), ("B", C_COL["B"], B_B), ("C", C_COL["C"], B_C),
           ("I", C_COL["I"], B_I), ("J", C_COL["J"], B_J), ("H", C_COL["H"], B_H), ("A", C_COL["A"], B_A), ("K", C_COL["K"], B_K)],
          [(B_LEAD_X, B_LEAD_Y), (B_LEAD2_X, B_LEAD2_Y), (B_LEAD3_X, B_LEAD3_Y)], B_ROOT, B_LABELS, B_ROOT_LABEL, B_CELLS,
          (B_DOT_X, B_DOT_Y, B_DOT_TEXT, B_DOT_TX, B_DOT_TY))

# ---------- panel c ----------
bar_panel(3, (1612, 2079, 172, 302), [-.59, 4.57], [-.0386, 1.049], C_TP, C_BAR_ORDER, C_COL, [C_BAR_X4, C_BAR_X5, C_BAR_X6, C_BAR_X7, C_BAR_X8], .905)
c_cum = np.array([C_AREA_0, C_AREA_1, C_AREA_2, C_AREA_3, C_AREA_4, C_AREA_5, C_AREA_6, C_AREA_7]).T.tolist()
area_panel(4, (1612, 1810, 371.6, 595.5), [0, .4206], [0, .1, .2, .3, .4], "%.1f", C_T, C_AREA_ORDER, C_COL, c_cum)
box_panel(5, (1892, 2079, 371.6, 594.7), [.562, 1.4326], [9.55, -.57], C_BOX_NAMES, C_COL, C_BOX_LOW, C_BOX_Q1, C_BOX_MED, C_BOX_Q3, C_BOX_HIGH, .5, 11)

# ---------- heatmap d ----------
xd, yd = set_axes(6, 93.8, 1026.8, 733.9, 1219.5, heat_x([140, 1533], D_TICKS), heat_y([1462, 193]))
d_bands = [(r[0], r[1], D_UP_X, D_UP_CN) for r in D_ROWS_UP] + [(r[0], r[1], D_LOW_X, D_LOW_CN) for r in D_ROWS_LOW]
d_bump = []
for y in D_ROWS_FINE:
    d_bump += [(723, 751, y, y + 2.6, 1), (156, 188, y + 3, y + 5.6, -1), (751, 790, y + 5, y + 7.6, 1), (1062, 1082, y + 2, y + 4.6, 1),
               (671, 692, y + 6, y + 8.6, 1), (1440, 1458, y + 1, y + 3.6, 1), (278, 310, y + 7, y + 9.6, -1), (227, 250, y + 4, y + 6.6, 1)]
for y in D_ROWS_FINE[::5]:
    d_bump += [(412, 463, y + 4, y + 5.6, 1)]
for y in D_ROWS_FINE[::4]:
    d_bump += [(1310, 1338, y + 8, y + 10, 1)]
for y in D_ROWS_LOWFINE:
    d_bump += [(723, 738, y, y + 2.6, -1), (765, 800, y + 3, y + 5.6, -1), (228, 250, y + 2, y + 4.6, 1), (156, 188, y + 5, y + 7.6, -1), (368, 388, y + 1, y + 3.6, -1),
               (1376, 1405, y + 4, y + 6.6, 1), (412, 430, y + 6, y + 8.6, -1)]
paint_heat(d_bands, D_PATCHES, d_bump, xd, yd)

# ---------- tree e ----------
xe_, ye_ = set_axes(7, 1040, 1540, 660, 1260, dict(range=[0, 1500], **hide()), dict(range=[1568, 0], **hide()))
draw_tree(xe_, ye_, 3.0, 1568 / 600, E_ELL,
          [("J", F_COL["J"], E_J), ("G", F_COL["G"], E_G), ("H", F_COL["H"], E_H + E_Hnode), ("E", F_COL["E"], E_E), ("F", F_COL["F"], E_F),
           ("A", F_COL["A"], E_A), ("D", F_COL["D"], E_D), ("B", F_COL["B"], E_B), ("C", F_COL["C"], E_C)],
          E_LEADS, E_ROOT, E_LABELS, E_ROOT_LABEL, E_CELLS, (E_DOT_X, E_DOT_Y, E_DOT_TEXT, E_DOT_TX, E_DOT_TY),
          extra_line=(E_ROOTLINE_X, E_ROOTLINE_Y))

# ---------- panel f ----------
bar_panel(8, (1617, 2079, 772, 902), [-.593, 4.593], [-.0485, 1.0485], F_TP, F_BAR_ORDER, F_COL, [F_BAR_X5, F_BAR_X6, F_BAR_X7, F_BAR_X8, F_BAR_X9], .905)
area_panel(9, (1617, 1813, 969, 1191), [0, .719], [0, .2, .4, .6], "%.1f", F_T, F_AREA_ORDER, F_COL,
           [F_AREA_A, F_AREA_J, F_AREA_H, F_AREA_E, F_AREA_F, F_AREA_D, F_AREA_G, F_AREA_C, F_AREA_B])
box_panel(10, (1893.7, 2079, 970, 1190), [.565, 1.438], [8.53, -.57], F_BOX_NAMES, F_COL, F_BOX_LOW, F_BOX_Q1, F_BOX_MED, F_BOX_Q3, F_BOX_HIGH, .62, 14)

# ---------- heatmap g ----------
xg, yg = set_axes(11, 91, 1027, 1327.6, 1814.3, heat_x([137, 1533], G_TICKS), heat_y([1352, 165]))
g_bands = [(r[0], r[1], G_A_X, G_A_CN) for r in G_ROWS_A] + [(r[0], r[1], G_D_X, G_D_CN) for r in G_ROWS_D]
g_bump = []
for y in G_DARK_ROWS:
    g_bump += [(215, 247, y, y + 3, 1), (551, 572, y + 1, y + 4, 1), (830, 870, y + 2, y + 5, 1), (1020, 1062, y + 3, y + 6, 1), (755, 798, y, y + 3, 1), (1148, 1168, y + 1, y + 4, 1), (938, 955, y + 2, y + 4, 1)]
for y in G_FULL_ROWS:
    g_bump.append((150, 1530, y, y + 2.4, 2))
g_hard = [(150, 1530, y, y + 3.2, 2) for y in G_STRONG_ROWS]
paint_heat(g_bands, G_PATCHES, g_bump, xg, yg, hard=g_hard)

# ---------- tree h ----------
xh, yh = set_axes(12, 1040, 1540, 1260, 1903, dict(range=[0, 1500], **hide()), dict(range=[1568, 0], **hide()))
draw_tree(xh, yh, 3.0, 1568 / 643, H_ELL,
          [("T", "#111111", H_TRUNK), ("A", I_COL["A"], H_A), ("D", I_COL["D"], H_D), ("C", I_COL["C"], H_C), ("B", I_COL["B"], H_B)],
          [], H_ROOT, H_LABELS, H_ROOT_LABEL, H_CELLS, (H_DOT_X, H_DOT_Y, H_DOT_TEXT, H_DOT_TX, H_DOT_TY))

# ---------- panel i ----------
bar_panel(13, (1615.4, 2068, 1395.3, 1521.6), [-.58, 7.58], [-.035, 1.0456], I_TP, I_BAR_ORDER, I_COL, [I_BAR_X1, I_BAR_X2, I_BAR_X3, I_BAR_X4, I_BAR_X5, I_BAR_X7, I_BAR_X8, I_BAR_X9], .907)
area_panel(14, (1615.4, 1807.8, 1589, 1805), [0, 1.44], [0, .5, 1], "%.1f", I_T, I_AREA_ORDER, I_COL, [I_AREA_D, I_AREA_C, I_AREA_B, I_AREA_A])
box_panel(15, (1885.5, 2068, 1589, 1805), [.5663, 1.434], [2.59, -.584], I_BOX_NAMES, I_COL, I_BOX_LOW, I_BOX_Q1, I_BOX_MED, I_BOX_Q3, I_BOX_HIGH, .75, 30)

# ---------- texts & legends ----------
for t, x, y in [("a", 23, 32), ("b", 1061, 32), ("c", 1538, 32), ("d", 23, 679), ("e", 1063, 684), ("f", 1538, 678), ("g", 23, 1291), ("h", 1063, 1292), ("i", 1538, 1288)]:
    txt(x, y, t, size=31, bold=True)
txt(346, 84, "TNBC-SA1035 UnRx (n = 2,015)", size=33, bold=True)
txt(339, 700, "TNBC-SA535 UnRx (n = 1,549)", size=33, bold=True)
txt(340, 1294, "HER2+SA532 UnRx (n = 2,193)", size=33, bold=True)

txt(795, 42, "Copy number", size=18, bold=True)
for i, lab in enumerate(CN_LABELS):
    r = i // 6; c = i % 6
    x0 = 733.4 + c * 46.9
    y0 = 58.4 + r * 30.2
    rect(x0, y0, x0 + 18.2, y0 + 26.8, CN_COLORS[i])
    txt(x0 + 29 + (4 if lab == "11+" else 0), y0 + 14, lab, size=18)

for n, y in zip(A_CLONE_NAMES, A_CLONE_Y):
    txt(55, y, n, size=22, bold=True, rot=-90)
txt(24, 363, "Clone", size=21, rot=-90)
for n, y in zip(D_CLONE_NAMES, D_CLONE_Y):
    txt(55, y, n, size=22, bold=True, rot=-90)
txt(22, 973, "Clone", size=21, rot=-90)
for n, y in zip(G_CLONE_NAMES, G_CLONE_Y):
    txt(55, y, n, size=22, bold=True, rot=-90)
txt(23, 1573.6, "Clone", size=21, rot=-90)

for a in [(110, 895, 140, 965), (110, 1070, 140, 1030), (110, 1125, 140, 1040), (113, 1187, 143, 1062), (110, 1440, 140, 1450)]:
    pline(a[0] / 1.493, 660 + a[1] / 2.613, a[2] / 1.493, 660 + a[3] / 2.613)

for n, x, y in zip(G_CHROM_NAMES, G_CHROM_X, G_CHROM_Y):
    txt(x / 1.493, 1260 + y / 2.439, n, size=15.5, bold=True)
txt(556, 1880, "Chromosome", size=16, bold=True)

def swatches(oz_x, oz_y, sx, sy, cols, grid):
    for name, x0, x1, y0, y1, lx, ly in grid:
        rect(oz_x + x0 / sx, oz_y + y0 / sy, oz_x + x1 / sx, oz_y + y1 / sy, cols[name])
        txt(oz_x + lx / sx, oz_y + ly / sy, name, size=21)

sx, sy = 1568 / 580, 1568 / 660
swatches(1520, 0, sx, sy, C_COL, [("E",467,549,183,254,597,218),("B",467,549,254,325,597,290),("D",649,730,183,254,780,218),("C",649,730,254,325,780,290),
    ("K",833,915,183,254,965,218),("H",833,915,254,325,965,290),("I",1018,1100,183,254,1137,218),("F",1018,1100,254,325,1147,290),
    ("G",1197,1279,183,254,1330,218),("A",1197,1279,254,325,1328,290),("J",1387,1466,183,254,1508,218)])
txt(1520 + 335 / sx, 256 / sy, "Clones", size=22, bold=True)
sy2 = 1568 / 600
swatches(1520, 660, sx, sy2, F_COL, [("G",567,645,50,127,698,88),("A",567,645,127,203,695,165),("B",753,832,50,127,881,88),("F",753,832,127,203,881,165),
    ("C",933,1011,50,127,1062,88),("H",933,1011,127,203,1062,165),("E",1116,1194,50,127,1244,88),("D",1116,1194,127,203,1244,165),
    ("I",1298,1376,50,127,1414,88),("J",1298,1376,127,203,1420,165)])
txt(1520 + 435 / sx, 660 + 128 / sy2, "Clones", size=22, bold=True)
sy3 = 1568 / 643
swatches(1520, 1260, sx, sy3, I_COL, [("D",820,898,107,177,948,143),("C",820,898,177,247,948,215),("B",999,1077,107,177,1125,143),("A",999,1077,177,247,1125,215)])
txt(1520 + 692 / sx, 1260 + 178 / sy3, "Clones", size=22, bold=True)

for x, y in [(1530, 238), (1530, 484), (1537, 837), (1537, 1080), (1537, 1460), (1537, 1697)]:
    txt(x, y, "Clonal fraction", size=21, rot=-90)
for x, y in [(1845.6, 358), (1848, 955), (1842, 1576)]:
    txt(x, y, "Timepoint", size=22)
for x, y in [(1710.5, 649), (1715, 1244), (1711, 1859)]:
    txt(x, y, "Time", size=21)
for x, y in [(1986, 649), (1986, 1244), (1977, 1859)]:
    txt(x, y, "1 + s", size=21)
for x, y in [(1836, 484), (1839, 1080), (1833, 1697)]:
    txt(x, y, "Clones", size=21, rot=-90)

layout["shapes"] = shapes
layout["annotations"] = annos
fig.update_layout(**layout)
fig.write_html("out.html", config=dict(displayModeBar=False),
               post_script="document.body.style.margin='0';document.documentElement.style.overflow='hidden';")
